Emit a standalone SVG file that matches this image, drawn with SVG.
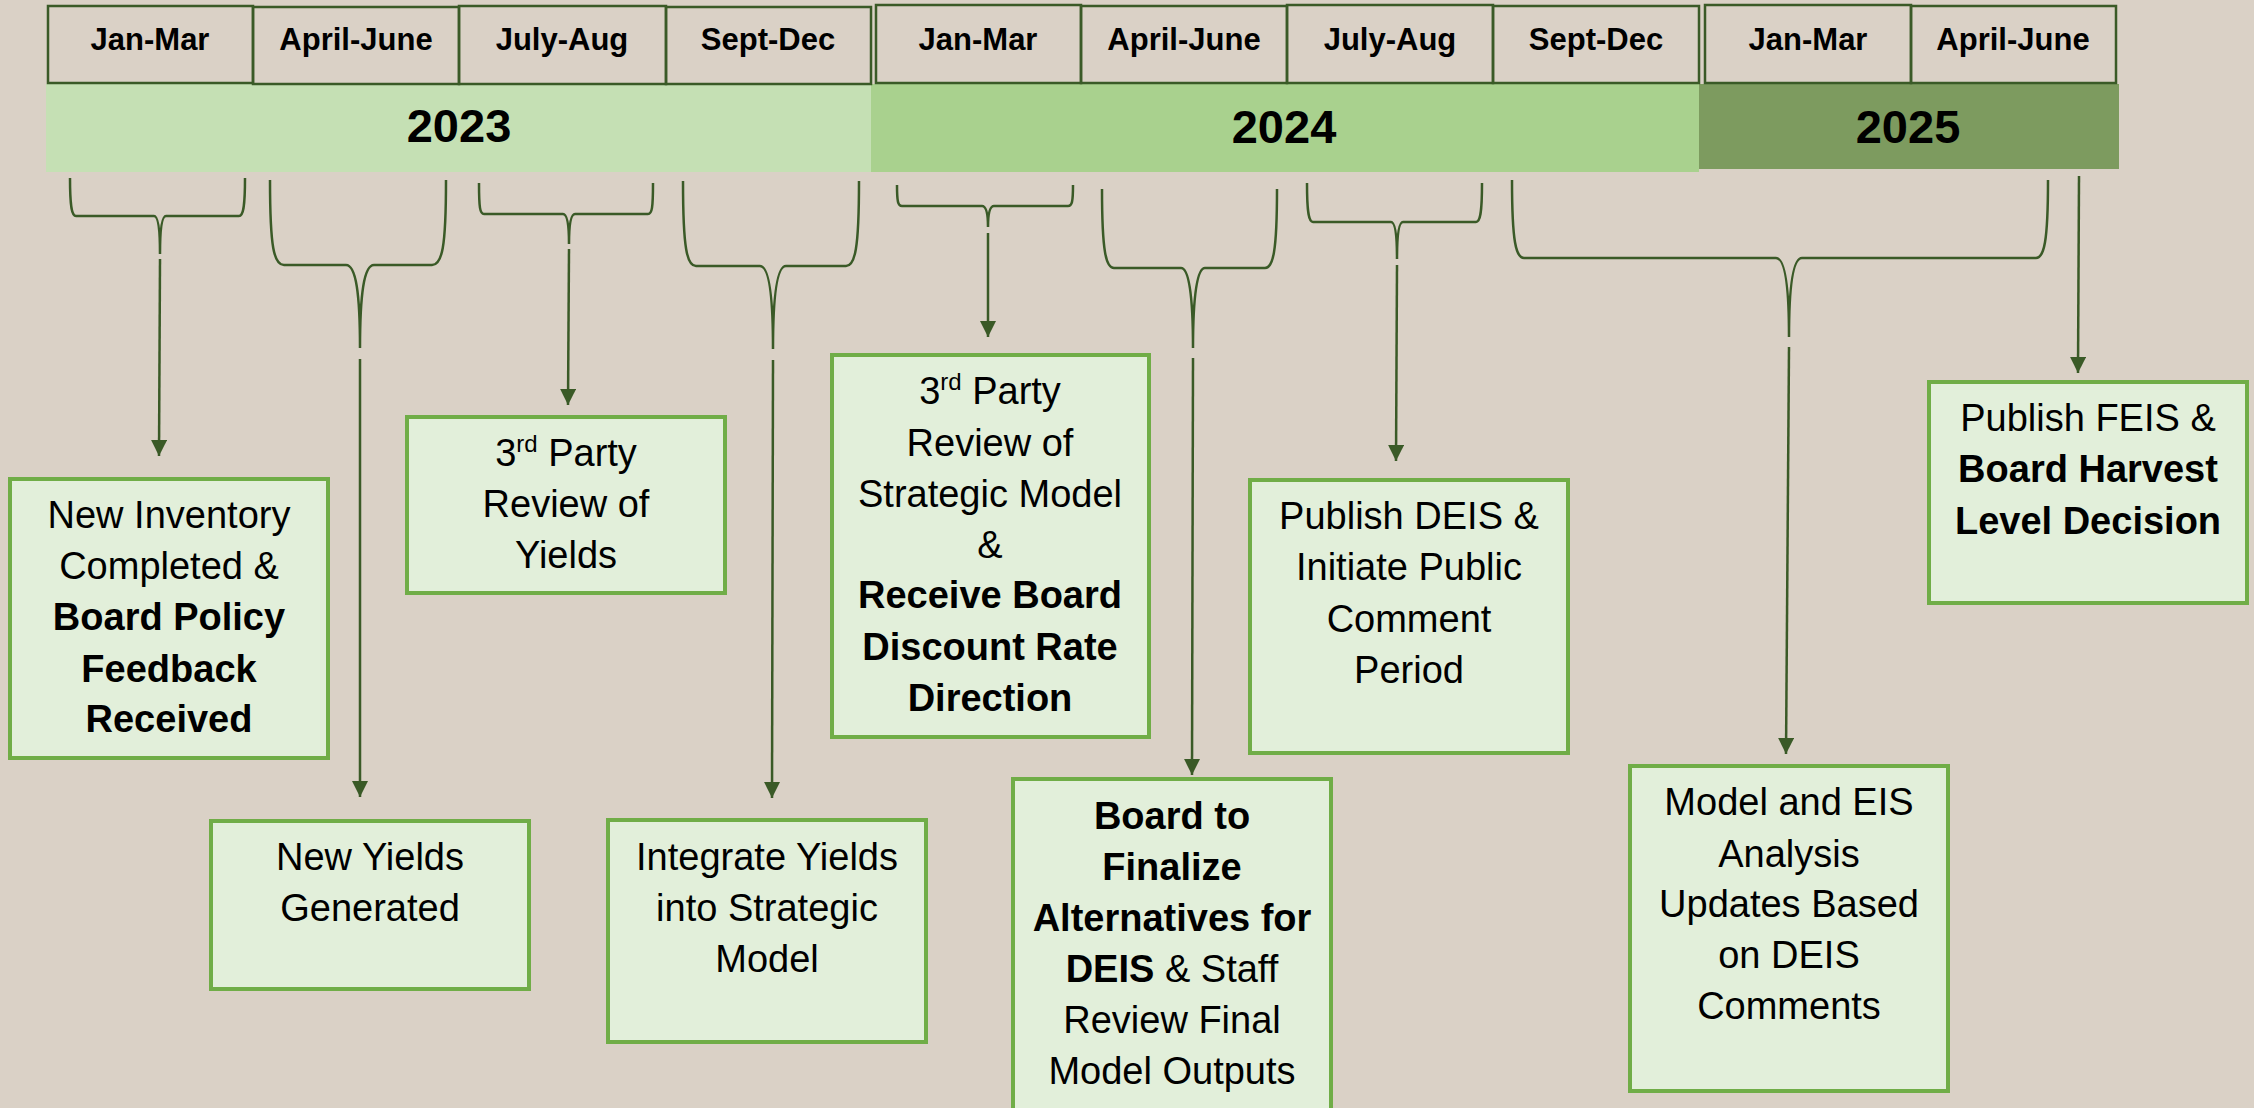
<svg xmlns="http://www.w3.org/2000/svg" width="2254" height="1108" viewBox="0 0 2254 1108">
<defs>
<style>
.hdr{fill:none;stroke:#3A5A27;stroke-width:2.5}
.ht{font-family:"Liberation Sans",Arial,sans-serif;font-weight:bold;font-size:31px;fill:#000;text-anchor:middle}
.yt{font-family:"Liberation Sans",Arial,sans-serif;font-weight:bold;font-size:47px;fill:#000;text-anchor:middle}
.box{fill:#E2EFDA;stroke:#70AD47;stroke-width:4}
.bt{font-family:"Liberation Sans",Arial,sans-serif;font-size:38px;fill:#000;text-anchor:middle}
.b{font-weight:bold}
.sup{font-size:24px}
.br{fill:none;stroke:#3A5A27;stroke-width:2.5}
.ar{fill:none;stroke:#3A5A27;stroke-width:2.5;marker-end:url(#ah)}
</style>
<marker id="ah" viewBox="0 0 16 16" refX="16" refY="8" markerWidth="16" markerHeight="16" markerUnits="userSpaceOnUse" orient="auto">
<path d="M0,0 L16,8 L0,16 z" fill="#3A5A27"/>
</marker>
</defs>
<rect x="0" y="0" width="2254" height="1108" fill="#DAD1C6"/>

<g id="timeline">
<rect x="46" y="84" width="825" height="88" fill="#C5E0B4"/>
<rect x="871" y="84" width="828" height="88" fill="#A9D18E"/>
<rect x="1699" y="84" width="420" height="85" fill="#7D9B5F"/>
<text class="yt" x="459" y="142">2023</text>
<text class="yt" x="1284" y="143">2024</text>
<text class="yt" x="1908" y="143">2025</text>
</g>

<g id="periods">
<rect class="hdr" x="48" y="6" width="205" height="77"/>
<rect class="hdr" x="253" y="7" width="206" height="77"/>
<rect class="hdr" x="459" y="6" width="207" height="78"/>
<rect class="hdr" x="666" y="7" width="205" height="77"/>
<rect class="hdr" x="876" y="5" width="205" height="78"/>
<rect class="hdr" x="1081" y="6" width="206" height="77"/>
<rect class="hdr" x="1287" y="5" width="206" height="78"/>
<rect class="hdr" x="1493" y="6" width="206" height="77"/>
<rect class="hdr" x="1705" y="5" width="206" height="78"/>
<rect class="hdr" x="1911" y="6" width="205" height="77"/>
<text class="ht" x="150" y="50">Jan-Mar</text>
<text class="ht" x="356" y="50">April-June</text>
<text class="ht" x="562" y="50">July-Aug</text>
<text class="ht" x="768" y="50">Sept-Dec</text>
<text class="ht" x="978" y="50">Jan-Mar</text>
<text class="ht" x="1184" y="50">April-June</text>
<text class="ht" x="1390" y="50">July-Aug</text>
<text class="ht" x="1596" y="50">Sept-Dec</text>
<text class="ht" x="1808" y="50">Jan-Mar</text>
<text class="ht" x="2013" y="50">April-June</text>
</g>

<g id="connectors">
<path class="br" d="M70,178 C70,208 72,216 76,216 L154,216 C158,216 160,229 160,254 C160,229 162,216 166,216 L239,216 C243,216 245,208 245,178"/>
<path class="br" d="M270,180 C270,248 274,265 284,265 L346,265 C356,265 360,294 360,348 C360,294 364,265 374,265 L432,265 C442,265 446,248 446,180"/>
<path class="br" d="M479,183 C479,208 480,214 484,214 L563,214 C567,214 569,225 569,244 C569,225 571,214 575,214 L648,214 C652,214 653,208 653,183"/>
<path class="br" d="M683,181 C683,249 687,266 696,266 L760,266 C769,266 773,295 773,349 C773,295 777,266 786,266 L846,266 C855,266 859,249 859,181"/>
<path class="br" d="M897,185 C897,202 898,206 902,206 L982,206 C986,206 988,213 988,227 C988,213 990,206 994,206 L1068,206 C1072,206 1073,202 1073,185"/>
<path class="br" d="M1102,189 C1102,252 1106,268 1114,268 L1181,268 C1189,268 1193,296 1193,348 C1193,296 1197,268 1205,268 L1265,268 C1273,268 1277,252 1277,189"/>
<path class="br" d="M1307,183 C1307,214 1309,222 1313,222 L1391,222 C1395,222 1397,235 1397,259 C1397,235 1399,222 1403,222 L1476,222 C1480,222 1482,214 1482,183"/>
<path class="br" d="M1512,180 C1512,242 1516,258 1524,258 L1776,258 C1785,258 1789,286 1789,337 C1789,286 1793,258 1802,258 L2036,258 C2044,258 2048,242 2048,180"/>
<line class="ar" x1="160" y1="259" x2="159" y2="456"/>
<line class="ar" x1="360" y1="359" x2="360" y2="797"/>
<line class="ar" x1="569" y1="249" x2="568" y2="405"/>
<line class="ar" x1="773" y1="360" x2="772" y2="798"/>
<line class="ar" x1="988" y1="233" x2="988" y2="337"/>
<line class="ar" x1="1193" y1="358" x2="1192" y2="775"/>
<line class="ar" x1="1397" y1="265" x2="1396" y2="461"/>
<line class="ar" x1="1789" y1="347" x2="1786" y2="754"/>
<line class="ar" x1="2079" y1="176" x2="2078" y2="373"/>
</g>

<g id="node-inventory">
<rect class="box" x="10" y="479" width="318" height="279"/>
<text class="bt" x="169" y="528">New Inventory</text>
<text class="bt" x="169" y="579">Completed &amp;</text>
<text class="bt b" x="169" y="630">Board Policy</text>
<text class="bt b" x="169" y="682">Feedback</text>
<text class="bt b" x="169" y="732">Received</text>
</g>

<g id="node-new-yields">
<rect class="box" x="211" y="821" width="318" height="168"/>
<text class="bt" x="370" y="870">New Yields</text>
<text class="bt" x="370" y="921">Generated</text>
</g>

<g id="node-review-yields">
<rect class="box" x="407" y="417" width="318" height="176"/>
<text class="bt" x="566" y="466">3<tspan class="sup" dy="-14">rd</tspan><tspan dy="14"> Party</tspan></text>
<text class="bt" x="566" y="517">Review of</text>
<text class="bt" x="566" y="568">Yields</text>
</g>

<g id="node-integrate">
<rect class="box" x="608" y="820" width="318" height="222"/>
<text class="bt" x="767" y="870">Integrate Yields</text>
<text class="bt" x="767" y="921">into Strategic</text>
<text class="bt" x="767" y="972">Model</text>
</g>

<g id="node-review-model">
<rect class="box" x="832" y="355" width="317" height="382"/>
<text class="bt" x="990" y="404">3<tspan class="sup" dy="-14">rd</tspan><tspan dy="14"> Party</tspan></text>
<text class="bt" x="990" y="456">Review of</text>
<text class="bt" x="990" y="507">Strategic Model</text>
<text class="bt" x="990" y="558">&amp;</text>
<text class="bt b" x="990" y="608">Receive Board</text>
<text class="bt b" x="990" y="660">Discount Rate</text>
<text class="bt b" x="990" y="711">Direction</text>
</g>

<g id="node-finalize">
<rect class="box" x="1013" y="779" width="318" height="340"/>
<text class="bt b" x="1172" y="829">Board to</text>
<text class="bt b" x="1172" y="880">Finalize</text>
<text class="bt b" x="1172" y="931">Alternatives for</text>
<text class="bt" x="1172" y="982"><tspan class="b">DEIS</tspan> &amp; Staff</text>
<text class="bt" x="1172" y="1033">Review Final</text>
<text class="bt" x="1172" y="1084">Model Outputs</text>
</g>

<g id="node-deis">
<rect class="box" x="1250" y="480" width="318" height="273"/>
<text class="bt" x="1409" y="529">Publish DEIS &amp;</text>
<text class="bt" x="1409" y="580">Initiate Public</text>
<text class="bt" x="1409" y="632">Comment</text>
<text class="bt" x="1409" y="683">Period</text>
</g>

<g id="node-updates">
<rect class="box" x="1630" y="766" width="318" height="325"/>
<text class="bt" x="1789" y="815">Model and EIS</text>
<text class="bt" x="1789" y="867">Analysis</text>
<text class="bt" x="1789" y="917">Updates Based</text>
<text class="bt" x="1789" y="968">on DEIS</text>
<text class="bt" x="1789" y="1019">Comments</text>
</g>

<g id="node-feis">
<rect class="box" x="1929" y="382" width="318" height="221"/>
<text class="bt" x="2088" y="431">Publish FEIS &amp;</text>
<text class="bt b" x="2088" y="482">Board Harvest</text>
<text class="bt b" x="2088" y="534">Level Decision</text>
</g>
</svg>
